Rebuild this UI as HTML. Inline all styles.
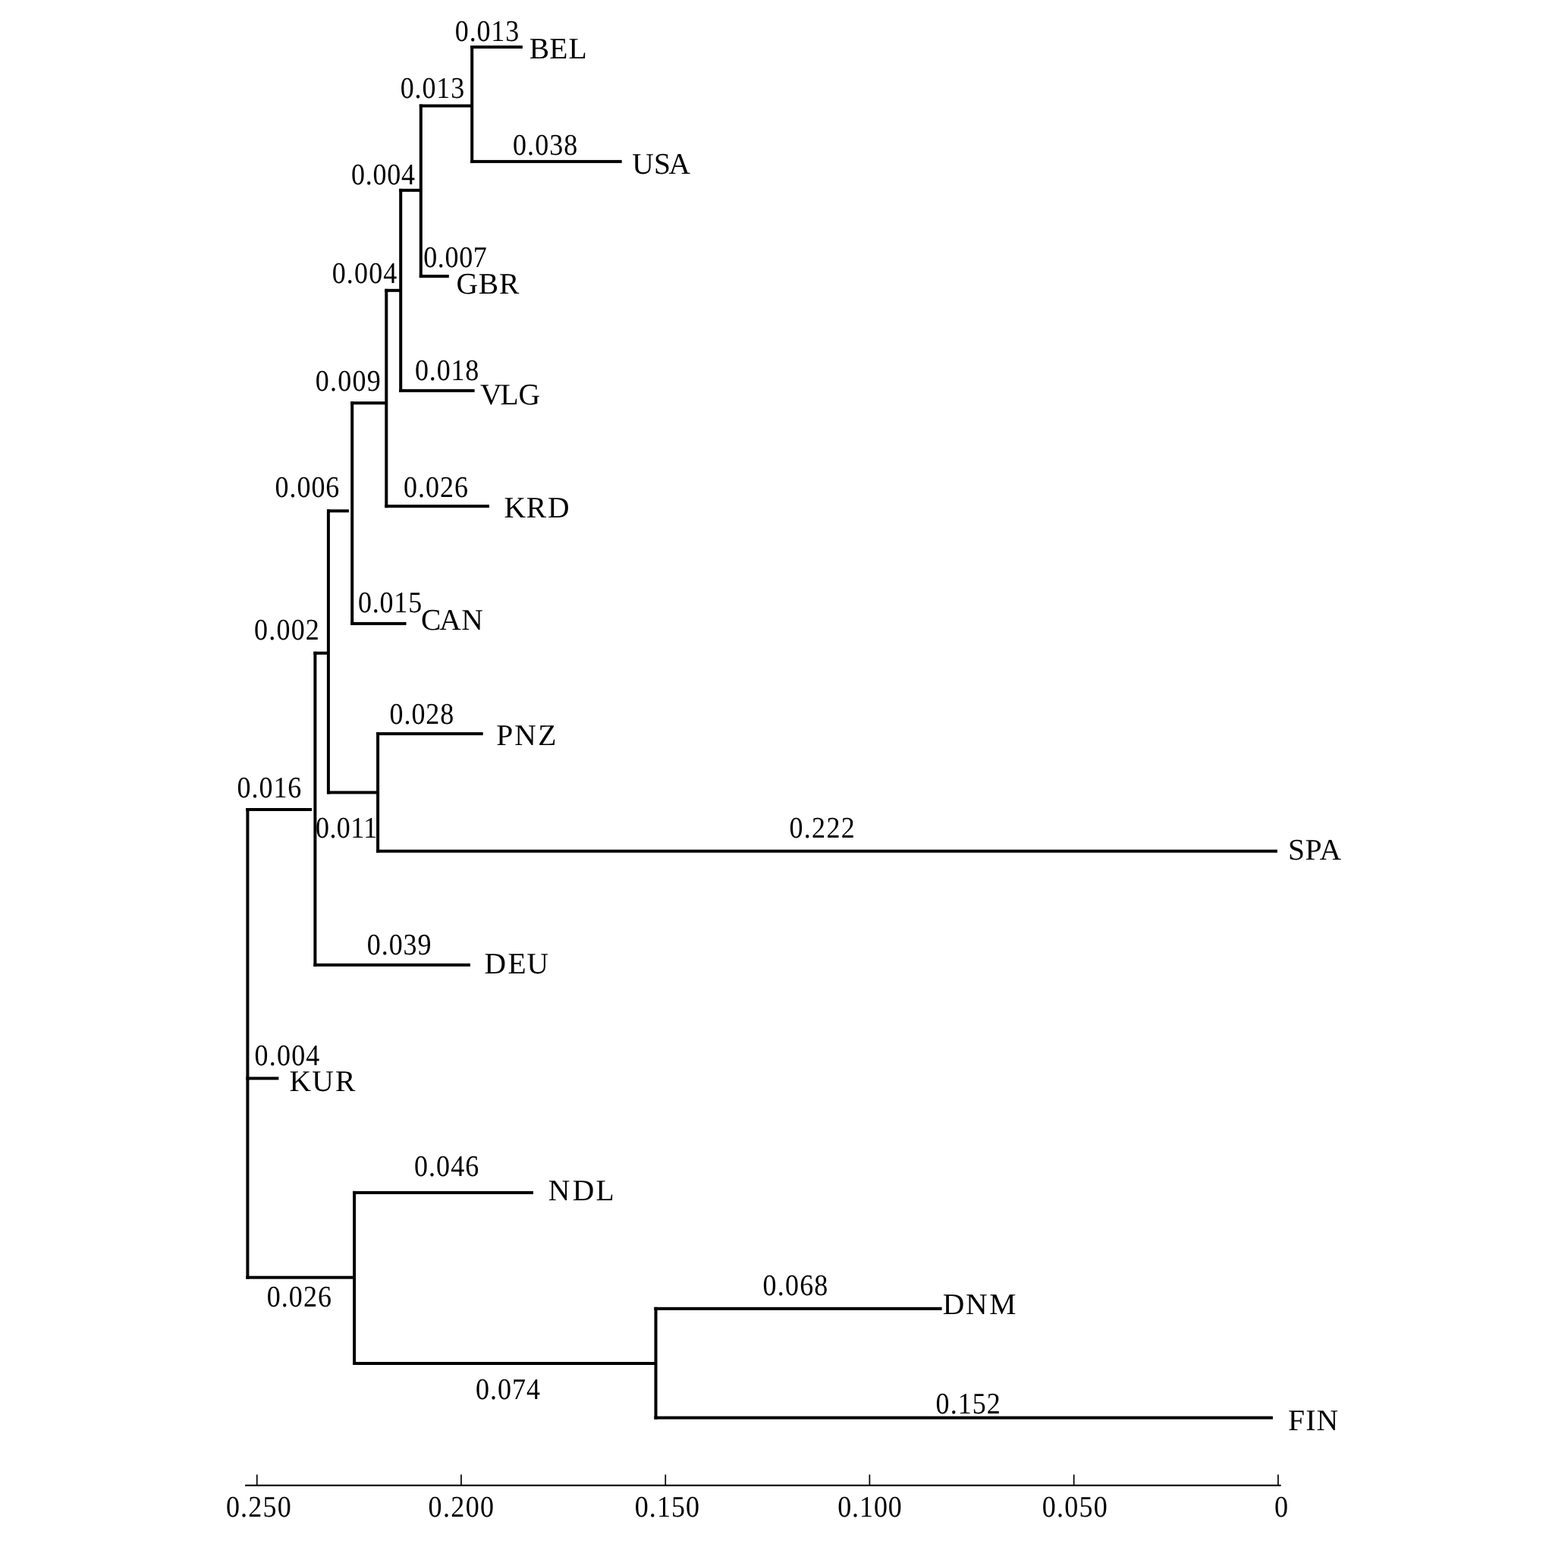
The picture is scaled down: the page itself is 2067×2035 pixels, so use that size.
<!DOCTYPE html>
<html><head><meta charset="utf-8"><title>Tree</title>
<style>
html,body{margin:0;padding:0;background:#fff}
svg{display:block}
text{font-family:"Liberation Serif",serif;font-size:39.5px;fill:#000;text-rendering:geometricPrecision}
</style></head><body>
<svg width="2067" height="2035" viewBox="0 0 2067 2035">
<rect width="2067" height="2035" fill="#fff"/>
<g fill="#000">
<rect x="620.2" y="60.0" width="68.6" height="4.0"/>
<rect x="620.2" y="210.9" width="199.5" height="4.0"/>
<rect x="552.8" y="137.5" width="69.2" height="4.0"/>
<rect x="552.8" y="362.1" width="39.0" height="4.0"/>
<rect x="526.2" y="248.8" width="28.8" height="4.0"/>
<rect x="526.2" y="512.9" width="99.4" height="4.0"/>
<rect x="507.3" y="380.8" width="20.7" height="4.0"/>
<rect x="507.3" y="665.2" width="137.6" height="4.0"/>
<rect x="462.2" y="529.2" width="46.8" height="4.0"/>
<rect x="462.2" y="819.9" width="73.3" height="4.0"/>
<rect x="431.0" y="671.4" width="28.9" height="4.0"/>
<rect x="431.0" y="1042.5" width="67.0" height="4.0"/>
<rect x="496.1" y="965.1" width="140.6" height="4.0"/>
<rect x="496.1" y="1119.8" width="1187.7" height="4.0"/>
<rect x="413.3" y="858.8" width="19.7" height="4.0"/>
<rect x="413.3" y="1269.8" width="206.6" height="4.0"/>
<rect x="324.3" y="1065.0" width="86.7" height="4.0"/>
<rect x="324.4" y="1419.3" width="43.0" height="4.0"/>
<rect x="324.4" y="1681.7" width="142.6" height="4.0"/>
<rect x="465.0" y="1569.9" width="238.0" height="4.0"/>
<rect x="465.0" y="1795.0" width="399.0" height="4.0"/>
<rect x="862.4" y="1722.8" width="379.2" height="4.0"/>
<rect x="862.4" y="1866.6" width="815.5" height="4.0"/>
<rect x="620.2" y="60.0" width="4.0" height="154.9"/>
<rect x="552.8" y="137.5" width="4.0" height="228.6"/>
<rect x="526.2" y="248.8" width="4.0" height="268.1"/>
<rect x="507.3" y="380.8" width="4.0" height="288.4"/>
<rect x="462.2" y="529.2" width="4.0" height="294.7"/>
<rect x="430.9" y="671.4" width="4.0" height="375.1"/>
<rect x="496.1" y="965.1" width="4.0" height="158.7"/>
<rect x="413.4" y="858.8" width="4.0" height="415.0"/>
<rect x="324.4" y="1065.0" width="4.0" height="620.7"/>
<rect x="465.1" y="1569.9" width="4.0" height="229.1"/>
<rect x="862.5" y="1722.8" width="4.0" height="147.8"/>
</g>
<g>
<text transform="translate(599.8 53.6) scale(0.910 1)" style="letter-spacing:0.95px">0.013</text>
<text transform="translate(527.7 129.3) scale(0.910 1)" style="letter-spacing:0.98px">0.013</text>
<text transform="translate(676.1 204.4) scale(0.910 1)" style="letter-spacing:1.14px">0.038</text>
<text transform="translate(463.0 242.6) scale(0.910 1)" style="letter-spacing:0.84px">0.004</text>
<text transform="translate(558.2 351.6) scale(0.910 1)" style="letter-spacing:0.75px">0.007</text>
<text transform="translate(437.7 372.6) scale(0.910 1)" style="letter-spacing:1.30px">0.004</text>
<text transform="translate(547.0 501.4) scale(0.910 1)" style="letter-spacing:0.95px">0.018</text>
<text transform="translate(415.8 514.8) scale(0.910 1)" style="letter-spacing:1.36px">0.009</text>
<text transform="translate(532.0 655.2) scale(0.910 1)" style="letter-spacing:1.11px">0.026</text>
<text transform="translate(362.5 655.2) scale(0.910 1)" style="letter-spacing:1.08px">0.006</text>
<text transform="translate(472.0 806.6) scale(0.910 1)" style="letter-spacing:0.89px">0.015</text>
<text transform="translate(335.0 843.2) scale(0.910 1)" style="letter-spacing:1.36px">0.002</text>
<text transform="translate(513.6 954.1) scale(0.910 1)" style="letter-spacing:1.03px">0.028</text>
<text transform="translate(312.5 1050.7) scale(0.910 1)" style="letter-spacing:1.08px">0.016</text>
<text transform="translate(416.0 1103.7) scale(0.910 1)" style="letter-spacing:0.49px">0.011</text>
<text transform="translate(1040.6 1103.7) scale(0.910 1)" style="letter-spacing:1.41px">0.222</text>
<text transform="translate(483.8 1257.7) scale(0.910 1)" style="letter-spacing:1.03px">0.039</text>
<text transform="translate(335.6 1403.8) scale(0.910 1)" style="letter-spacing:1.33px">0.004</text>
<text transform="translate(546.0 1549.7) scale(0.910 1)" style="letter-spacing:1.19px">0.046</text>
<text transform="translate(351.8 1722.3) scale(0.910 1)" style="letter-spacing:1.16px">0.026</text>
<text transform="translate(1005.5 1706.6) scale(0.910 1)" style="letter-spacing:1.36px">0.068</text>
<text transform="translate(626.9 1843.7) scale(0.910 1)" style="letter-spacing:1.16px">0.074</text>
<text transform="translate(1233.6 1862.5) scale(0.910 1)" style="letter-spacing:1.20px">0.152</text>
<text transform="translate(297.9 1998.8) scale(0.910 1)" style="letter-spacing:1.36px">0.250</text>
<text transform="translate(564.6 1998.8) scale(0.910 1)" style="letter-spacing:1.50px">0.200</text>
<text transform="translate(836.8 1998.8) scale(0.910 1)" style="letter-spacing:1.20px">0.150</text>
<text transform="translate(1104.2 1998.8) scale(0.910 1)" style="letter-spacing:1.03px">0.100</text>
<text transform="translate(1373.8 1998.8) scale(0.910 1)" style="letter-spacing:1.36px">0.050</text>
<text transform="translate(1680.0 1998.5) scale(0.910 1)" style="letter-spacing:0.00px">0</text>
<text x="697.8 724.3 749.5" y="76.6">BEL</text>
<text x="833.3 861.9 881.5" y="228.9">USA</text>
<text x="601.5 630.8 657.9" y="386.9">GBR</text>
<text x="632.9 659.6 683.6" y="532.9">VLG</text>
<text x="664.6 693.7 722.1" y="681.8">KRD</text>
<text x="554.9 579.3 608.2" y="829.7">CAN</text>
<text x="654.2 678.2 709.3" y="982.0">PNZ</text>
<text x="1697.9 1720.4 1739.5" y="1132.9">SPA</text>
<text x="638.5 669.5 694.4" y="1282.9">DEU</text>
<text x="381.5 411.2 441.9" y="1437.6">KUR</text>
<text x="722.8 754.8 785.5" y="1581.7">NDL</text>
<text x="1242.7 1272.9 1304.2" y="1732.0">DNM</text>
<text x="1697.9 1721.3 1735.5" y="1884.7">FIN</text>
</g>
<g fill="#000">
<rect x="323.1" y="1956.7" width="1365.5" height="2.1"/>
<rect x="337.9" y="1943.5" width="1.7" height="14"/>
<rect x="607.1" y="1943.5" width="1.7" height="14"/>
<rect x="876.4" y="1943.5" width="1.7" height="14"/>
<rect x="1145.5" y="1943.5" width="1.7" height="14"/>
<rect x="1414.8" y="1943.5" width="1.7" height="14"/>
<rect x="1684.0" y="1943.5" width="1.7" height="14"/>
</g>
</svg>
</body></html>
